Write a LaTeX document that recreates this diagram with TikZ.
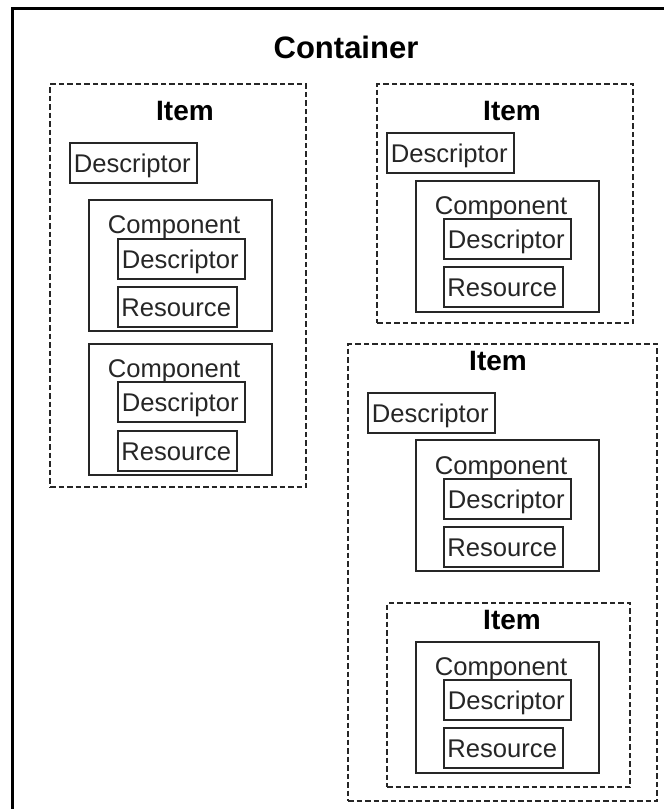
\documentclass[tikz,border=0pt]{standalone}
\usepackage{fontspec}
\setmainfont{Liberation Sans}
\tikzset{x=1pt,y=-1pt,
 solidbox/.style={draw=black!85,line width=1.8pt,inner sep=0pt,outer sep=0pt,anchor=north west},
 itembox/.style={draw=black!85,line width=1.6pt,dash pattern=on 5.5pt off 3pt,inner sep=0pt,outer sep=0pt,anchor=north west},
 lbl/.style={inner sep=0pt,text=black!85,text height=18pt,text depth=0pt,font=\fontsize{25.6}{27}\selectfont},
 itemlbl/.style={inner sep=0pt,font=\fontsize{28}{30}\selectfont\bfseries},
 descbox/.style={solidbox,lbl,minimum width=127pt,minimum height=40pt,execute at end node=\hspace*{2.5pt}},
 resbox/.style={solidbox,lbl,minimum width=119pt,minimum height=40pt,execute at end node=\hspace*{2.5pt}},
 compbox/.style={solidbox,minimum width=183pt,minimum height=131pt},
}
\begin{document}
\begin{tikzpicture}
\useasboundingbox (0,0) rectangle (664,809);
\fill[white] (0,0) rectangle (664,809);
\coordinate (cA) at (12.5,809);
\coordinate (cB) at (12.5,8.5);
\coordinate (cC) at (664,8.5);
\draw[line width=3.2pt] (cA) -- (cB) -- (cC);
\node[inner sep=0pt,font=\fontsize{31}{33}\selectfont\bfseries] (title) at (346,47) {Container};
% left item
\node[itembox,minimum width=256pt,minimum height=403pt] (i1) at (50,84) {};
\node[itemlbl] (i1l) at (185,111) {Item};
\node[descbox] (d1) at (70,143) {Descriptor};
\node[compbox] (c1) at (89,200) {};
\node[lbl] (c1l) at (174,224) {Component};
\node[descbox] (d2) at (118,239) {Descriptor};
\node[resbox] (r2) at (118,287) {Resource};
\node[compbox] (c2) at (89,344) {};
\node[lbl] (c2l) at (174,368) {Component};
\node[descbox] (d3) at (118,382) {Descriptor};
\node[resbox] (r3) at (118,431) {Resource};
% top right item
\node[itembox,minimum width=256pt,minimum height=239pt] (i2) at (377,84) {};
\node[itemlbl] (i2l) at (512,111) {Item};
\node[descbox] (d4) at (387,133) {Descriptor};
\node[compbox] (c3) at (416,181) {};
\node[lbl] (c3l) at (501,205) {Component};
\node[descbox] (d5) at (444,219) {Descriptor};
\node[resbox] (r5) at (444,267) {Resource};
% big right item
\node[itembox,minimum width=309pt,minimum height=457pt] (i3) at (348,344) {};
\node[itemlbl] (i3l) at (498,361) {Item};
\node[descbox] (d6) at (368,393) {Descriptor};
\node[compbox] (c4) at (416,440) {};
\node[lbl] (c4l) at (501,465) {Component};
\node[descbox] (d7) at (444,479) {Descriptor};
\node[resbox] (r7) at (444,527) {Resource};
% nested item
\node[itembox,minimum width=243pt,minimum height=184pt] (i4) at (387,603) {};
\node[itemlbl] (i4l) at (512,620) {Item};
\node[compbox] (c5) at (416,642) {};
\node[lbl] (c5l) at (501,666) {Component};
\node[descbox] (d8) at (444,680) {Descriptor};
\node[resbox] (r8) at (444,728) {Resource};
\end{tikzpicture}
\end{document}
